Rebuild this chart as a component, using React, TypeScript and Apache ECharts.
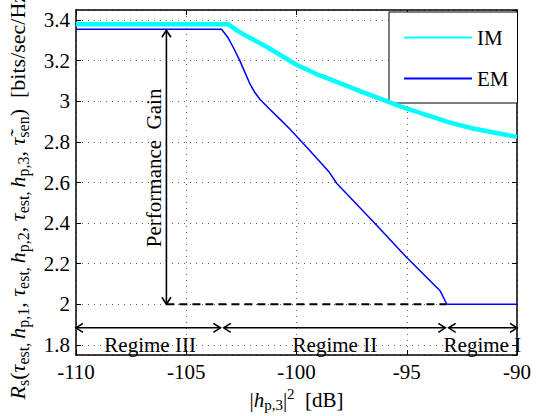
import React, { useEffect, useRef } from 'react';
import * as echarts from 'echarts';

// IM curve (cyan)
const imX = [-110, -103.1, -102.7, -102.4, -101.3, -100, -99, -97.8, -97, -96, -95.3, -94.4, -93, -92, -91, -90];
const imY = [3.38, 3.38, 3.35, 3.33, 3.265, 3.18, 3.13, 3.08, 3.045, 3.005, 2.975, 2.943, 2.894, 2.866, 2.845, 2.825];
// EM curve (blue)
const emX = [-110, -103.4, -103.1, -102.86, -102.56, -102.33, -102.1, -101.88, -101.65, -101.2, -100.74, -100.29, -99.38, -98.55, -98.17, -96.43, -94.99, -93.48, -93.18, -90];
const emY = [3.355, 3.355, 3.313, 3.264, 3.198, 3.14, 3.083, 3.042, 3.009, 2.96, 2.911, 2.862, 2.755, 2.656, 2.595, 2.397, 2.229, 2.065, 2.0, 2.0];

// annotations
const gainArrow = [-105.9, 3.35, -105.9, 2.0];
const gainLineX = [-105.9, -93.2];
const gainLineY = 2.0;
const regimeStarts = [-110, -103.3, -93.1];
const regimeEnds = [-103.45, -93.25, -90];
const regimeArrowY = 1.884;
const regimeNames = ['Regime III', 'Regime II', 'Regime I'];
const regimeLabelX = [-106.64, -98.26, -91.57];
const regimeLabelY = 1.8;
const gainLabel = 'Performance  Gain';
const gainLabelX = -106.45;
const gainLabelY = 2.672;

const FONT = 'Liberation Serif';

export default function App() {
  const ref = useRef<HTMLDivElement>(null);
  useEffect(() => {
    if (!ref.current) return;
    const chart = echarts.init(ref.current, undefined, { renderer: 'svg' });

    const arrowData = [
      gainArrow,
      ...regimeStarts.map((s, i) => [s, regimeArrowY, regimeEnds[i], regimeArrowY]),
    ];
    const textData = [
      [gainLabelX, gainLabelY, 1],
      ...regimeLabelX.map((x) => [x, regimeLabelY, 0]),
    ];
    const textNames = [gainLabel, ...regimeNames];

    const axisLine = { show: true, lineStyle: { color: '#000', width: 1.5 } };
    const splitLine = { show: true, lineStyle: { color: '#666', width: 1, type: [1, 5] as any } };
    const tick = { show: true, inside: true, length: 5, lineStyle: { color: '#000' } };

    const option: any = {
      animation: false,
      backgroundColor: '#fff',
      grid: { left: 76, right: 21, top: 10, bottom: 61, show: false, outerBoundsMode: 'none', containLabel: false },
      legend: {
        data: ['IM', 'EM'],
        orient: 'vertical',
        left: 389,
        top: 12,
        padding: [15, 9, 14, 14],
        itemGap: 20,
        itemWidth: 68,
        itemHeight: 20,
        backgroundColor: '#fff',
        borderColor: '#000',
        borderWidth: 1,
        itemStyle: { opacity: 0 },
        textStyle: { fontFamily: FONT, fontSize: 21, color: '#000' },
      },
      xAxis: [
        {
          type: 'value',
          min: -110,
          max: -90,
          interval: 5,
          position: 'bottom',
          axisLine,
          axisTick: tick,
          axisLabel: { color: '#000', fontFamily: FONT, fontSize: 21, margin: 6 },
          splitLine,
          name: '{n||}{i|h}{s|p,3}{n||}{t|2}{n|  [dB]}',
          nameLocation: 'middle',
          nameGap: 27,
          nameTextStyle: {
            color: '#000',
            rich: {
              n: { fontFamily: FONT, fontSize: 21, lineHeight: 26, color: '#000' },
              i: { fontFamily: FONT, fontSize: 21, fontStyle: 'italic', lineHeight: 26, color: '#000' },
              s: { fontFamily: FONT, fontSize: 15, lineHeight: 15, verticalAlign: 'bottom', color: '#000' },
              t: { fontFamily: FONT, fontSize: 15, lineHeight: 15, verticalAlign: 'top', color: '#000' },
            },
          },
        },
        {
          type: 'value',
          min: -110,
          max: -90,
          interval: 5,
          position: 'top',
          axisLine,
          axisTick: tick,
          axisLabel: { show: false },
          splitLine: { show: false },
        },
      ],
      yAxis: [
        {
          type: 'value',
          min: 1.75,
          max: 3.45,
          splitNumber: 8,
          minInterval: 0.2,
          maxInterval: 0.2,
          position: 'left',
          axisLine,
          axisTick: tick,
          axisLabel: { color: '#000', fontFamily: FONT, fontSize: 21, margin: 6, showMinLabel: false, showMaxLabel: false },
          splitLine,
          name:
            '{i|R}{s|s}{n|(}{i|τ}{s|est, }{i|h}{s|p,1}{n|, }{i|τ}{s|est, }{i|h}{s|p,2}{n|, }{i|τ}{s|est, }{i|h}{s|p,3}{n|, }{i|τ̃}{s|sen}{n|)  [bits/sec/Hz]}',
          nameLocation: 'middle',
          nameRotate: 90,
          nameGap: 45,
          nameTextStyle: {
            color: '#000',
            padding: [0, 20, 0, 0],
            rich: {
              n: { fontFamily: FONT, fontSize: 22, lineHeight: 28, color: '#000' },
              i: { fontFamily: FONT, fontSize: 22, fontStyle: 'italic', lineHeight: 28, color: '#000' },
              s: { fontFamily: FONT, fontSize: 16, lineHeight: 16, verticalAlign: 'bottom', color: '#000' },
            },
          },
        },
        {
          type: 'value',
          min: 1.75,
          max: 3.45,
          splitNumber: 8,
          minInterval: 0.2,
          maxInterval: 0.2,
          position: 'right',
          axisLine,
          axisTick: tick,
          axisLabel: { show: false },
          splitLine: { show: false },
        },
      ],
      series: [
        {
          name: 'gainLine',
          type: 'line',
          data: gainLineX.map((x) => [x, gainLineY]),
          symbol: 'none',
          lineStyle: { color: '#000', width: 2, type: [8, 5] },
          silent: true,
          z: 3,
        },
        {
          name: 'IM',
          type: 'line',
          data: imX.map((x, i) => [x, imY[i]]),
          symbol: 'none',
          showSymbol: false,
          color: '#00ffff',
          lineStyle: { color: '#00ffff', width: 4.5 },
          z: 4,
        },
        {
          name: 'EM',
          type: 'line',
          data: emX.map((x, i) => [x, emY[i]]),
          symbol: 'none',
          showSymbol: false,
          color: '#0000ff',
          lineStyle: { color: '#0000ff', width: 1.5 },
          z: 5,
        },
        {
          name: 'arrows',
          type: 'custom',
          silent: true,
          z: 6,
          data: arrowData,
          encode: { x: [0, 2], y: [1, 3] },
          renderItem: (params: any, api: any) => {
            const a = api.coord([api.value(0), api.value(1)]);
            const b = api.coord([api.value(2), api.value(3)]);
            const dx = b[0] - a[0];
            const dy = b[1] - a[1];
            const len = Math.hypot(dx, dy) || 1;
            const ux = dx / len;
            const uy = dy / len;
            const nx = -uy;
            const ny = ux;
            const L = 7;
            const W = 4.5;
            const head = (p: number[], s: number) => ({
              type: 'polyline',
              shape: {
                points: [
                  [p[0] - s * ux * L + nx * W, p[1] - s * uy * L + ny * W],
                  [p[0], p[1]],
                  [p[0] - s * ux * L - nx * W, p[1] - s * uy * L - ny * W],
                ],
              },
              style: { stroke: '#000', lineWidth: 1.6, fill: null },
            });
            return {
              type: 'group',
              children: [
                { type: 'line', shape: { x1: a[0], y1: a[1], x2: b[0], y2: b[1] }, style: { stroke: '#000', lineWidth: 1.6 } },
                head(b, 1),
                head(a, -1),
              ],
            };
          },
        },
        {
          name: 'texts',
          type: 'custom',
          silent: true,
          z: 7,
          data: textData,
          renderItem: (params: any, api: any) => {
            const p = api.coord([api.value(0), api.value(1)]);
            const rot = api.value(2) === 1 ? Math.PI / 2 : 0;
            return {
              type: 'text',
              x: p[0],
              y: p[1],
              rotation: rot,
              style: {
                text: textNames[params.dataIndex],
                fontFamily: FONT,
                fontSize: 21,
                fill: '#000',
                align: 'center',
                verticalAlign: 'middle',
              },
            };
          },
        },
      ],
    };
    chart.setOption(option);
    return () => chart.dispose();
  }, []);
  return <div ref={ref} style={{ position: 'absolute', left: 0, top: 0, width: 538, height: 416 }} />;
}
